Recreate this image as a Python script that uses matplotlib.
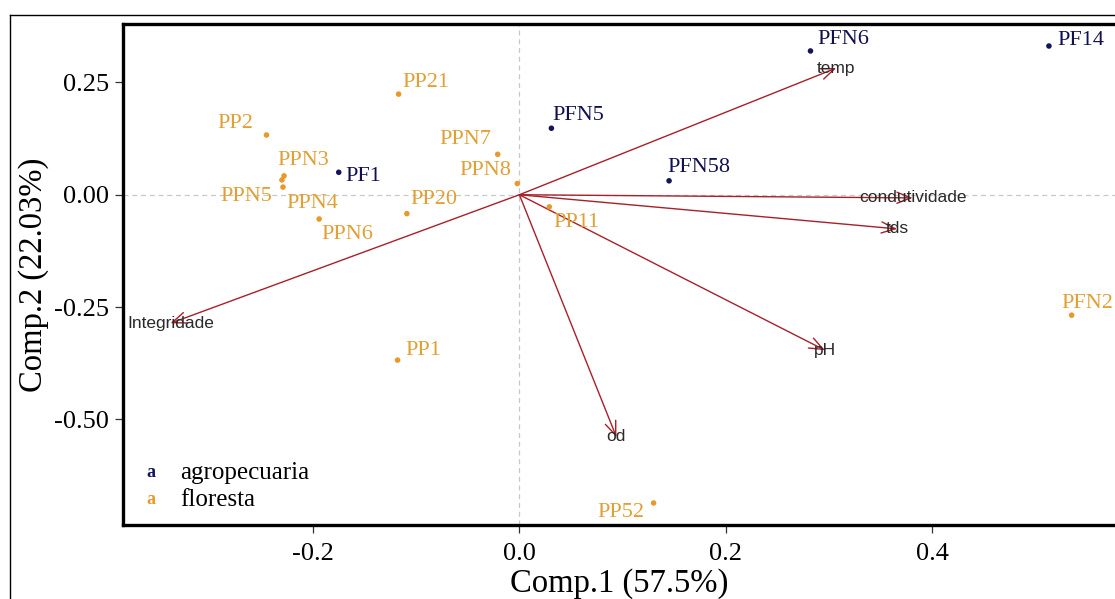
import matplotlib
matplotlib.use("Agg")
import matplotlib.pyplot as plt
from matplotlib.lines import Line2D

# sample scores (Comp.1, Comp.2) and group
samples = ["PFN6", "PF14", "PFN5", "PFN58", "PF1", "PP2", "PPN3", "PPN5", "PPN4",
           "PPN6", "PP21", "PPN7", "PPN8", "PP20", "PP11", "PP1", "PP52", "PFN2"]
comp1 = [0.282, 0.513, 0.031, 0.145, -0.175, -0.245, -0.228, -0.230, -0.229,
         -0.194, -0.117, -0.021, -0.002, -0.109, 0.029, -0.118, 0.130, 0.535]
comp2 = [0.320, 0.331, 0.148, 0.031, 0.050, 0.133, 0.042, 0.033, 0.017,
         -0.054, 0.224, 0.090, 0.025, -0.042, -0.027, -0.368, -0.686, -0.268]
group = ["agropecuaria"] * 5 + ["floresta"] * 13

# variable loadings (arrow tips)
variables = ["temp", "condutividade", "tds", "pH", "od", "Integridade"]
load1 = [0.307, 0.381, 0.366, 0.296, 0.094, -0.338]
load2 = [0.282, -0.007, -0.076, -0.346, -0.539, -0.286]

colors = {"agropecuaria": "#14145e", "floresta": "#e8992a"}
label_colors = {"agropecuaria": "#101050", "floresta": "#e0a035"}

# label offsets in pixels (dx to text left edge, dy to text centre)
offsets = {"PFN6": (7, 11), "PF14": (8, 6), "PFN5": (1, 13), "PFN58": (-2, 13),
           "PF1": (7, -4), "PP2": (-49, 11), "PPN3": (-7, 15), "PPN5": (-62, -17),
           "PPN4": (3, -16), "PPN6": (2, -15), "PP21": (4, 12), "PPN7": (-58, 15),
           "PPN8": (-58, 13), "PP20": (4, 14), "PP11": (4, -16), "PP1": (8, 10),
           "PP52": (-56, -10), "PFN2": (-10, 12)}

serif = "Liberation Serif"
sans = "Liberation Sans"

fig = plt.figure(figsize=(11.15, 5.99), dpi=100)
W, H = 1115, 599
ax = fig.add_axes([123 / W, 1 - 525 / H, 1 - 123 / W, (525 - 24) / H])

ax.axhline(0, color="#c8c8c8", lw=0.9, ls=(0, (4, 3)), zorder=1)
ax.axvline(0, color="#c8c8c8", lw=0.9, ls=(0, (4, 3)), zorder=1)

for name, x, y in zip(variables, load1, load2):
    ax.annotate("", xy=(x, y), xytext=(0, 0),
                arrowprops=dict(arrowstyle="->,head_length=1.0,head_width=0.4",
                                color="#a8202a", lw=1.0, shrinkA=0, shrinkB=0),
                zorder=2)
    ax.text(x, y, name, family=sans, fontsize=12.5, color="#2a2a2a",
            ha="center", va="center", zorder=4)

for name, x, y, g in zip(samples, comp1, comp2, group):
    ax.scatter(x, y, s=16, color=colors[g], edgecolor="none", zorder=3)
    dx, dy = offsets[name]
    ax.annotate(name, (x, y), xytext=(dx, dy), textcoords="offset pixels",
                ha="left", va="center", family=serif, fontsize=16,
                color=label_colors[g], zorder=4)

ax.set_xlim(-0.384, 0.577)
ax.set_ylim(-0.735, 0.380)
ax.set_xticks([-0.2, 0.0, 0.2, 0.4])
ax.set_xticklabels(["-0.2", "0.0", "0.2", "0.4"])
ax.set_yticks([0.25, 0.0, -0.25, -0.5])
ax.set_yticklabels(["0.25", "0.00", "-0.25", "-0.50"])
ax.tick_params(length=6, width=0.9, color="#333333", labelsize=19)
ax.tick_params(axis="x", pad=7)
ax.tick_params(axis="y", pad=4)
for lab in ax.get_xticklabels() + ax.get_yticklabels():
    lab.set_family(serif)

for side in ["left", "top", "bottom"]:
    ax.spines[side].set_linewidth(2.4)
    ax.spines[side].set_color("black")
ax.spines["right"].set_visible(False)

ax.set_xlabel("Comp.1 (57.5%)", family=serif, fontsize=23.5, labelpad=2)
ax.set_ylabel("Comp.2 (22.03%)", family=serif, fontsize=23.5, labelpad=4)

# legend
for i, g in enumerate(["agropecuaria", "floresta"]):
    yy = 0.104 - i * 0.054
    ax.text(0.028, yy, "a", transform=ax.transAxes, family=serif, fontsize=13,
            fontweight="bold", color=colors[g], ha="center", va="center")
    ax.text(0.0575, yy, g, transform=ax.transAxes, family=serif, fontsize=18,
            color="black", ha="left", va="center")

# outer frame
fig.add_artist(Line2D([10 / W, 10 / W], [0, 1 - 15 / H], transform=fig.transFigure,
                      color="black", lw=1.0))
fig.add_artist(Line2D([10 / W, 1], [1 - 15 / H, 1 - 15 / H], transform=fig.transFigure,
                      color="black", lw=1.0))

fig.savefig("out.png", dpi=100, facecolor="white")
